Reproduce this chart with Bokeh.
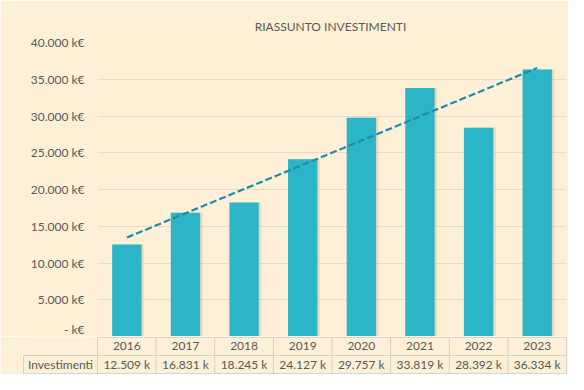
from bokeh.plotting import figure
from bokeh.layouts import column
from bokeh.models import Range1d, FixedTicker, ColumnDataSource
from bokeh.core.properties import value
from bokeh.transform import dodge
from bokeh.embed import file_html
from bokeh.resources import INLINE

# ---- data ----
years = ["2016", "2017", "2018", "2019", "2020", "2021", "2022", "2023"]
investimenti = [12509, 16831, 18245, 24127, 29757, 33819, 28392, 36334]
value_labels = ["12.509 k", "16.831 k", "18.245 k", "24.127 k", "29.757 k", "33.819 k", "28.392 k", "36.334 k"]
y_ticks = [0, 5000, 10000, 15000, 20000, 25000, 30000, 35000, 40000]
y_tick_labels = ["- k€", "5.000 k€", "10.000 k€", "15.000 k€", "20.000 k€",
                 "25.000 k€", "30.000 k€", "35.000 k€", "40.000 k€"]
series_name = "Investimenti"
title_text = "RIASSUNTO  INVESTIMENTI"

BG = "#FDF0D6"
BAR = "#2BB5C6"
TREND = "#1E8CAB"
TXT = "#595959"
GRID = "#E5DCCB"
TBL = "#D8D0C2"
FONT = "Lato"

n = len(years)
xs = list(range(n))

# linear trend (least squares, as Excel's trendline)
mx = sum(xs) / n
my = sum(investimenti) / n
slope = sum((x - mx) * (y - my) for x, y in zip(xs, investimenti)) / sum((x - mx) ** 2 for x in xs)
icpt = my - slope * mx
trend_y = [icpt + slope * x for x in xs]

src = ColumnDataSource(dict(x=xs, v=investimenti, year=years, lab=value_labels))

FW = 469
p = figure(frame_width=FW, frame_height=294, output_backend="svg", toolbar_location=None,
           x_range=Range1d(-0.5, n - 0.5), y_range=Range1d(0, 40000),
           min_border_left=97, min_border_right=2, min_border_top=42, min_border_bottom=0,
           background_fill_color=BG, border_fill_color=BG, outline_line_color=None)
p.frame_align = False
p.title.text = title_text
p.title.align = "center"
p.title.text_font = FONT
p.title.text_font_style = "normal"
p.title.text_font_size = "12px"
p.title.text_color = TXT
p.title.standoff = 18

p.xaxis.visible = False
p.xgrid.grid_line_color = None
p.yaxis.ticker = FixedTicker(ticks=y_ticks)
p.ygrid.ticker = FixedTicker(ticks=y_ticks)
p.yaxis.major_label_overrides = {t: l for t, l in zip(y_ticks, y_tick_labels)}
p.yaxis.axis_line_color = None
p.yaxis.major_tick_line_color = None
p.yaxis.minor_tick_line_color = None
p.yaxis.major_label_standoff = 7
p.yaxis.major_label_text_font = FONT
p.yaxis.major_label_text_font_size = "12px"
p.yaxis.major_label_text_color = TXT
p.ygrid.grid_line_color = GRID
p.ygrid.grid_line_width = 1

# soft shadow behind bars
p.vbar(x=dodge("x", 0.045, range=p.x_range), top="v", width=0.5, source=src,
       fill_color="#C9B58E", fill_alpha=0.25, line_color=None)
p.vbar(x=dodge("x", 0.025, range=p.x_range), top="v", width=0.5, source=src,
       fill_color="#C9B58E", fill_alpha=0.3, line_color=None)
p.vbar(x="x", top="v", width=0.5, source=src, fill_color=BAR, line_color=None)
p.line(xs, trend_y, line_color=TREND, line_width=2.2, line_dash="7 3")

# ---- data table under the chart ----
ppu = FW / n                 # pixels per category
lab_w = 74 / ppu             # width of the label column
pad = 1 / ppu
t = figure(frame_width=FW + 76, frame_height=38, output_backend="svg", toolbar_location=None,
           x_range=Range1d(-0.5 - lab_w - pad, n - 0.5 + pad), y_range=Range1d(-0.05, 2.05),
           min_border_left=22, min_border_right=1, min_border_top=0, min_border_bottom=0,
           background_fill_color=BG, border_fill_color=BG, outline_line_color=None)
t.frame_align = False
t.xaxis.visible = False
t.yaxis.visible = False
t.grid.visible = False
x0 = -0.5 - lab_w
xe = n - 0.5
# horizontal rules
t.segment(x0=[-0.5, x0, x0], y0=[2, 1, 0], x1=[xe, xe, xe], y1=[2, 1, 0],
          line_color=TBL, line_width=1)
# vertical rules
vx = [x - 0.5 for x in xs] + [xe]
t.segment(x0=vx, y0=[0] * len(vx), x1=vx, y1=[2] * len(vx), line_color=TBL, line_width=1)
t.segment(x0=[x0], y0=[0], x1=[x0], y1=[1], line_color=TBL, line_width=1)
t.text(x="x", y=1.5, text="year", source=src, text_align="center", text_baseline="middle",
       text_font=value(FONT), text_font_size="12px", text_color=TXT)
t.text(x="x", y=0.5, text="lab", source=src, text_align="center", text_baseline="middle",
       text_font=value(FONT), text_font_size="12px", text_color=TXT)
t.text(x=[(x0 - 0.5) / 2], y=[0.5], text=[series_name], text_align="center", text_baseline="middle",
       text_font=value(FONT), text_font_size="12px", text_color=TXT)

layout = column(p, t, spacing=0)
open("out.html", "w").write(file_html(layout, INLINE))
